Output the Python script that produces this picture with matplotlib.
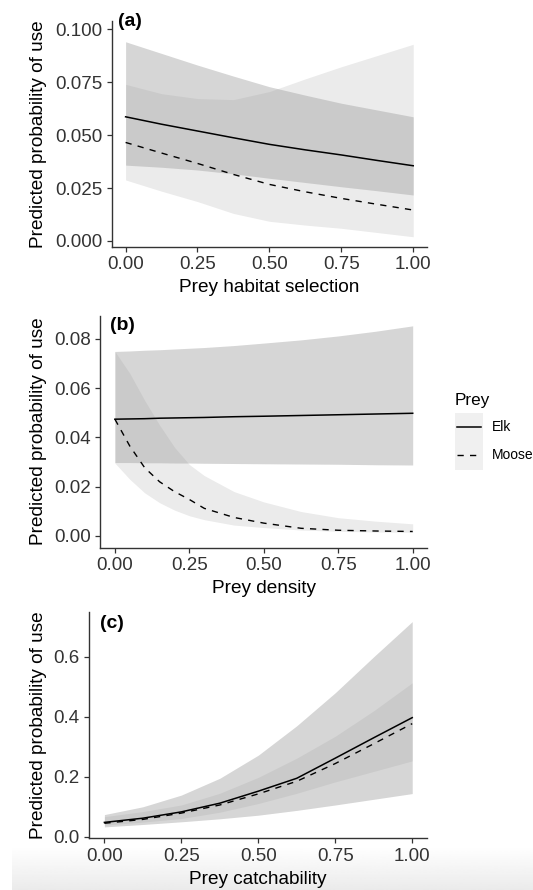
import numpy as np
import matplotlib
matplotlib.use("Agg")
import matplotlib.pyplot as plt
from matplotlib.patches import Rectangle

plt.rcParams['font.family'] = ['Liberation Sans', 'DejaVu Sans']

# ---- panel (a): prey habitat selection ----
x_a = [0, 0.125, 0.25, 0.375, 0.5, 0.625, 0.75, 0.875, 1.0]
elk_a = [0.0586, 0.0551, 0.0519, 0.0487, 0.0456, 0.0430, 0.0406, 0.0380, 0.0355]
elk_a_hi = [0.0940, 0.0885, 0.0830, 0.0778, 0.0728, 0.0688, 0.0650, 0.0618, 0.0586]
elk_a_lo = [0.0358, 0.0348, 0.0335, 0.0317, 0.0296, 0.0276, 0.0256, 0.0237, 0.0217]
moose_a = [0.0465, 0.0415, 0.0366, 0.0314, 0.0267, 0.0232, 0.0201, 0.0173, 0.0146]
moose_a_hi = [0.0739, 0.0695, 0.0672, 0.0667, 0.0705, 0.0765, 0.0822, 0.0875, 0.0928]
moose_a_lo = [0.0288, 0.0235, 0.0186, 0.0130, 0.0093, 0.0075, 0.0060, 0.0040, 0.0020]

# ---- panel (b): prey density ----
x_b = [0, 0.05, 0.1, 0.15, 0.2, 0.25, 0.3, 0.4, 0.5, 0.625, 0.75, 0.875, 1.0]
elk_b = [0.0474, 0.0475, 0.0476, 0.0478, 0.0479, 0.0480, 0.0481, 0.0484, 0.0486, 0.0489, 0.0492, 0.0495, 0.0498]
elk_b_hi = [0.0749, 0.0751, 0.0754, 0.0756, 0.0759, 0.0762, 0.0765, 0.0773, 0.0783, 0.0796, 0.0812, 0.0831, 0.0853]
elk_b_lo = [0.0298, 0.0298, 0.0297, 0.0297, 0.0296, 0.0296, 0.0295, 0.0294, 0.0293, 0.0292, 0.0291, 0.0289, 0.0288]
moose_b = [0.0474, 0.0365, 0.0277, 0.0220, 0.0180, 0.0148, 0.0112, 0.0075, 0.0052, 0.0031, 0.0023, 0.0020, 0.0018]
moose_b_hi = [0.0749, 0.0660, 0.0550, 0.0450, 0.0360, 0.0290, 0.0245, 0.0180, 0.0138, 0.0099, 0.0074, 0.0060, 0.0049]
moose_b_lo = [0.0296, 0.0230, 0.0175, 0.0135, 0.0105, 0.0082, 0.0066, 0.0044, 0.0034, 0.0024, 0.0019, 0.0016, 0.0015]

# ---- panel (c): prey catchability ----
x_c = [0, 0.125, 0.25, 0.375, 0.5, 0.625, 0.75, 0.875, 1.0]
elk_c = [0.048, 0.062, 0.083, 0.112, 0.152, 0.195, 0.262, 0.330, 0.397]
elk_c_hi = [0.074, 0.100, 0.139, 0.195, 0.272, 0.370, 0.480, 0.600, 0.717]
elk_c_lo = [0.033, 0.041, 0.050, 0.060, 0.072, 0.088, 0.106, 0.125, 0.144]
moose_c = [0.045, 0.058, 0.079, 0.106, 0.143, 0.185, 0.244, 0.310, 0.377]
moose_c_hi = [0.067, 0.084, 0.106, 0.145, 0.198, 0.262, 0.335, 0.420, 0.513]
moose_c_lo = [0.039, 0.049, 0.061, 0.082, 0.111, 0.145, 0.183, 0.218, 0.253]

x_ticks = [0, 0.25, 0.5, 0.75, 1.0]
x_labels = ["0.00", "0.25", "0.50", "0.75", "1.00"]

W, H = 533, 890
fig = plt.figure(figsize=(W / 100, H / 100), dpi=100)


def box(left, top, right, bottom):
    return [left / W, 1 - bottom / H, (right - left) / W, (bottom - top) / H]


# screenshot shading at the bottom edge
bg = fig.add_axes(box(12, 846, W, H), zorder=-5)
grad = np.linspace(1.0, 0.92, 50).reshape(-1, 1)
bg.imshow(grad, aspect='auto', cmap='gray', vmin=0, vmax=1, extent=[0, 1, 0, 1])
bg.axis('off')

panels = [
    dict(pos=box(111.5, 21, 427, 246.5), x=x_a, elk=elk_a, ehi=elk_a_hi, elo=elk_a_lo,
         moose=moose_a, mhi=moose_a_hi, mlo=moose_a_lo, ylim=(-0.0026, 0.1038),
         yt=[0, 0.025, 0.05, 0.075, 0.1], ytl=["0.000", "0.025", "0.050", "0.075", "0.100"],
         xlabel="Prey habitat selection", tag="(a)", tagxy=(118, 22)),
    dict(pos=box(100.3, 315.5, 427, 547.5), x=x_b, elk=elk_b, ehi=elk_b_hi, elo=elk_b_lo,
         moose=moose_b, mhi=moose_b_hi, mlo=moose_b_lo, ylim=(-0.0047, 0.0895),
         yt=[0, 0.02, 0.04, 0.06, 0.08], ytl=["0.00", "0.02", "0.04", "0.06", "0.08"],
         xlabel="Prey density", tag="(b)", tagxy=(110, 326)),
    dict(pos=box(89.3, 611.7, 427, 838.3), x=x_c, elk=elk_c, ehi=elk_c_hi, elo=elk_c_lo,
         moose=moose_c, mhi=moose_c_hi, mlo=moose_c_lo, ylim=(-0.005, 0.75),
         yt=[0, 0.2, 0.4, 0.6], ytl=["0.0", "0.2", "0.4", "0.6"],
         xlabel="Prey catchability", tag="(c)", tagxy=(100, 623)),
]

axis_col = '#333333'
for p in panels:
    ax = fig.add_axes(p['pos'])
    ax.fill_between(p['x'], p['elo'], p['ehi'], color='#333333', alpha=0.2, lw=0)
    ax.fill_between(p['x'], p['mlo'], p['mhi'], color='#9b9b9b', alpha=0.2, lw=0)
    ax.plot(p['x'], p['elk'], color='black', lw=1.1)
    ax.plot(p['x'], p['moose'], color='black', lw=1.0, dashes=(4.5, 4.5))
    ax.set_xlim(-0.049, 1.048)
    ax.set_ylim(*p['ylim'])
    ax.set_xticks(x_ticks)
    ax.set_xticklabels(x_labels)
    ax.set_yticks(p['yt'])
    ax.set_yticklabels(p['ytl'])
    for s in ['top', 'right']:
        ax.spines[s].set_visible(False)
    for s in ['left', 'bottom']:
        ax.spines[s].set_color(axis_col)
        ax.spines[s].set_linewidth(1.0)
    ax.tick_params(length=3.3, width=0.9, color=axis_col, labelsize=13.5,
                   labelcolor='#333333', pad=3.5)
    ax.set_xlabel(p['xlabel'], fontsize=13.7, labelpad=4.5)
    ax.set_ylabel("Predicted probability of use", fontsize=13.7)
    ax.yaxis.set_label_coords((47 - p['pos'][0] * W) / (p['pos'][2] * W), 0.5)
    ax.patch.set_alpha(0)
    fig.text(p['tagxy'][0] / W, 1 - p['tagxy'][1] / H, p['tag'], fontsize=14,
             fontweight='bold', ha='left', va='center')

# legend
fig.text(455 / W, 1 - 400 / H, "Prey", fontsize=12.3, ha='left', va='center')
leg = fig.add_axes(box(440, 405, W, 480))
leg.set_xlim(440, W)
leg.set_ylim(480, 405)
leg.axis('off')
leg.add_patch(Rectangle((455, 413), 28, 28.5, color='#f0f0f0', lw=0))
leg.add_patch(Rectangle((455, 441.5), 28, 28.5, color='#f0f0f0', lw=0))
leg.plot([457, 481], [427.3, 427.3], color='black', lw=1.1)
leg.plot([457, 481], [455, 455], color='black', lw=1.0, dashes=(4.5, 4.5))
leg.text(492, 427.3, "Elk", fontsize=10, va='center', ha='left')
leg.text(492, 455, "Moose", fontsize=10, va='center', ha='left', clip_on=False)

fig.savefig("out.png", dpi=100)
